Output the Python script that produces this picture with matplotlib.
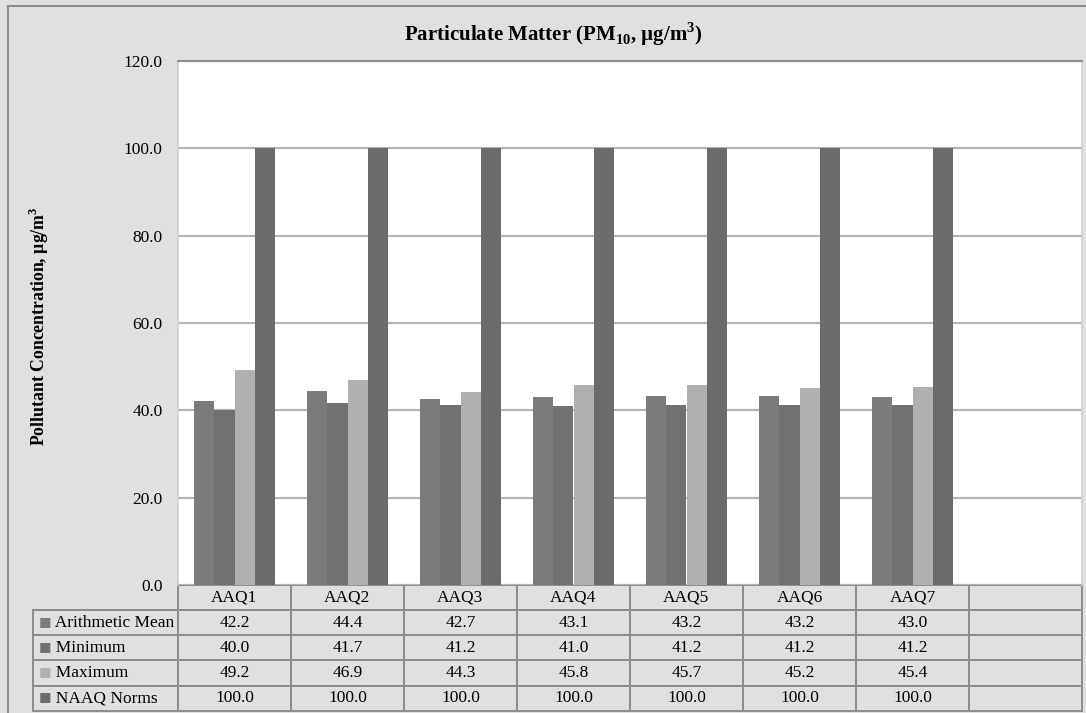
import numpy as np
import matplotlib
matplotlib.use("Agg")
import matplotlib.pyplot as plt
from matplotlib.table import Table
from matplotlib.lines import Line2D

plt.rcParams['font.family'] = ['Liberation Serif', 'DejaVu Serif']
plt.rcParams['mathtext.fontset'] = 'custom'
plt.rcParams['mathtext.rm'] = 'Liberation Serif'
plt.rcParams['mathtext.bf'] = 'Liberation Serif:bold'

stations = ["AAQ1", "AAQ2", "AAQ3", "AAQ4", "AAQ5", "AAQ6", "AAQ7", ""]
series = ["Arithmetic Mean", "Minimum", "Maximum", "NAAQ Norms"]
mean_vals = [42.2, 44.4, 42.7, 43.1, 43.2, 43.2, 43.0]
min_vals = [40.0, 41.7, 41.2, 41.0, 41.2, 41.2, 41.2]
max_vals = [49.2, 46.9, 44.3, 45.8, 45.7, 45.2, 45.4]
norm_vals = [100.0, 100.0, 100.0, 100.0, 100.0, 100.0, 100.0]
colors = ["#7b7b7b", "#717171", "#b0b0b0", "#6b6b6b"]
bg = "#e0e0e0"
edge = "#8c8c8c"

W, H = 1086, 713
fig = plt.figure(figsize=(W / 100, H / 100), dpi=100, facecolor=bg)
ax = fig.add_axes([178 / W, 1 - 585 / H, (1082 - 178) / W, (585 - 61) / H])
ax.set_facecolor("white")

all_vals = [mean_vals, min_vals, max_vals, norm_vals]
x = np.arange(len(mean_vals))
bw = 0.179
for i, vals in enumerate(all_vals):
    ax.bar(x + (i - 1.5) * bw, vals, bw, color=colors[i], zorder=3)

ax.set_xlim(-0.5, len(stations) - 0.5)
ax.set_ylim(0, 120)
ax.set_yticks(np.arange(0, 121, 20))
ax.set_yticklabels(["%.1f" % v for v in np.arange(0, 121, 20)], fontsize=12.5)
ax.tick_params(axis="y", length=0, pad=11)
ax.set_xticks([])
ax.grid(axis="y", color="#b4b4b4", lw=1.6, zorder=0)
ax.spines["bottom"].set_visible(False)
ax.spines["top"].set_color(edge)
ax.spines["top"].set_linewidth(1.5)
for s in ["left", "right"]:
    ax.spines[s].set_color("#cfcfcf")
    ax.spines[s].set_linewidth(1.2)

# data table under the plot (column 0 = row labels)
tab = Table(ax, bbox=[(33 - 178) / 904, -125.7 / 524, (1082 - 33) / 904, 125.7 / 524])
cw = 113.1
lw_ = 145
rh = 25
for j, st in enumerate(stations):
    tab.add_cell(0, j + 1, cw, rh, text=st, loc="center", facecolor=bg, edgecolor=edge)
for i, name in enumerate(series):
    tab.add_cell(i + 1, 0, lw_, rh, text="  " + name, loc="left", facecolor=bg, edgecolor=edge)
    for j in range(len(stations)):
        txt = "%.1f" % all_vals[i][j] if j < len(all_vals[i]) else ""
        tab.add_cell(i + 1, j + 1, cw, rh, text=txt, loc="center", facecolor=bg, edgecolor=edge)
tab.auto_set_font_size(False)
tab.set_fontsize(12.5)
for c in tab.get_celld().values():
    c.set_linewidth(1.4)
ax.add_table(tab)

# legend keys in the row labels
for i in range(len(series)):
    yc = -(25.7 + 10.5 + 25 * i) / 524
    ax.text((45 - 178) / 904, yc, "\u25a0", color=colors[i], fontsize=9.5,
            family="DejaVu Sans", ha="center", va="center", transform=ax.transAxes)

# outer frame
fig.add_artist(Line2D([8 / W, 1], [1 - 6 / H, 1 - 6 / H], color=edge, lw=1.5))
fig.add_artist(Line2D([8 / W, 8 / W], [0, 1 - 6 / H], color=edge, lw=1.5))

fig.text(553 / W, 1 - 34 / H, r"Particulate Matter (PM$_{\mathbf{10}}$, µg/m$^{\mathbf{3}}$)",
         ha="center", va="center", fontsize=15, fontweight="bold")
fig.text(39 / W, 1 - 326 / H, r"Pollutant Concentration, µg/m$^{\mathbf{3}}$",
         ha="center", va="center", rotation=90, fontsize=12.8, fontweight="bold")

fig.savefig("out.png", dpi=100, facecolor=bg)
